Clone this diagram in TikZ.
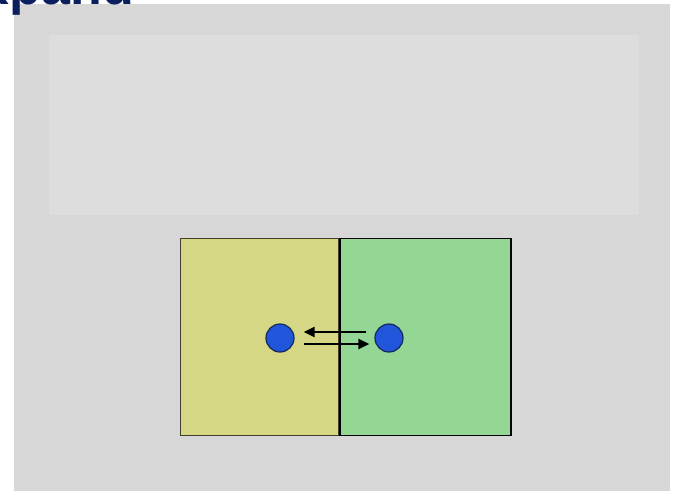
\documentclass[tikz,border=0pt]{standalone}
\usepackage{fontspec}
\setsansfont{Liberation Sans}
\usetikzlibrary{positioning,arrows.meta}
\definecolor{slideGray}{HTML}{D7D7D7}
\definecolor{panelGray}{HTML}{DDDDDD}
\definecolor{cellYellow}{HTML}{D5D784}
\definecolor{cellGreen}{HTML}{94D694}
\definecolor{dotBlue}{HTML}{2155DA}
\definecolor{dotEdge}{HTML}{14285C}
\definecolor{titleNavy}{HTML}{0B1F5E}
\begin{document}
\begin{tikzpicture}[
  x=1pt, y=-1pt,
  sheet/.style={rectangle, inner sep=0pt, anchor=north west},
  cell/.style={rectangle, inner sep=0pt, minimum height=197pt},
  dot/.style={circle, inner sep=0pt, minimum size=28pt, fill=dotBlue,
    draw=dotEdge, line width=1.2pt},
  arr/.style={-{Triangle[length=11pt,width=10pt]}, line width=2.2pt, draw=black}
]
\useasboundingbox (0,0) rectangle (676,491);
\fill[white] (0,0) rectangle (676,491);

\node[sheet, fill=slideGray, minimum width=656pt, minimum height=487pt] (slide) at (14,4) {};
\node[sheet, fill=panelGray, minimum width=590pt, minimum height=180pt] (panel) at (49,35) {};

% title, cut off at the top edge
\begin{scope}
  \clip (0,0) rectangle (676,491);
  \node[anchor=base west, inner sep=0pt, text=titleNavy,
    font=\sffamily\bfseries\fontsize{52}{52}\selectfont] (title) at (-54,4) {Expand};
\end{scope}

\node[cell, anchor=north west, minimum width=158pt, fill=cellYellow,
  draw=black!70!olive, line width=1pt] (left) at (180,238) {};
\node[cell, right=0pt of left, minimum width=171pt, fill=cellGreen,
  draw=black, line width=1.8pt] (right) {};

\node[dot] (dotL) at (280,338) {};
\node[dot] (dotR) at (389,338) {};

\draw[arr, shorten <=8pt, shorten >=9pt] ([yshift=6pt]dotR.west) -- ([yshift=6pt]dotL.east);
\draw[arr, shorten <=9pt, shorten >=5pt] ([yshift=-6pt]dotL.east) -- ([yshift=-6pt]dotR.west);

\end{tikzpicture}
\end{document}
